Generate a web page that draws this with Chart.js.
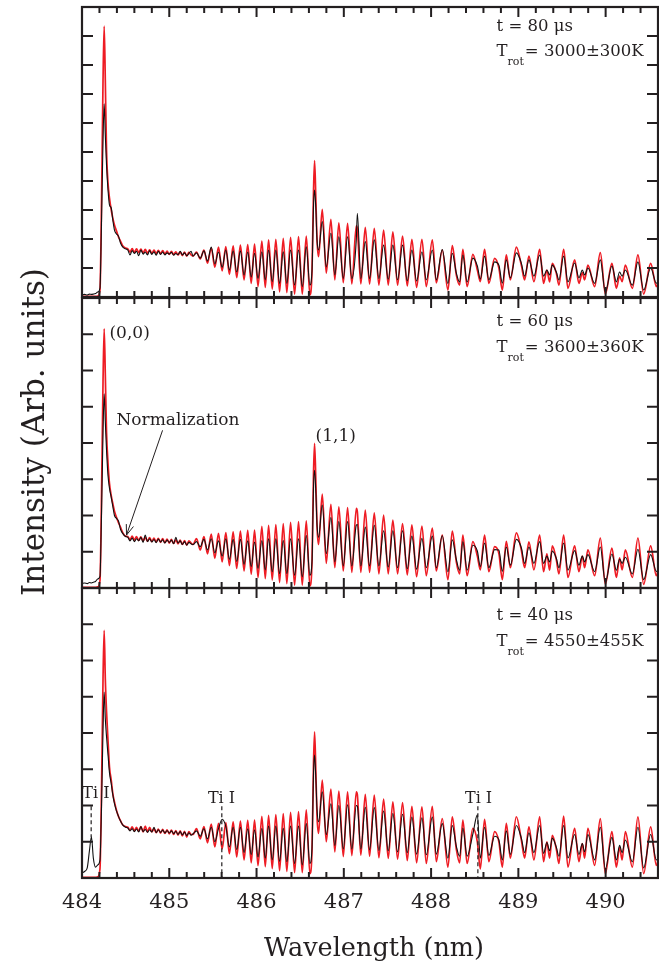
<!DOCTYPE html>
<html>
<head>
<meta charset="utf-8">
<title>AlO B-X emission, delay series</title>
<script src="https://cdn.jsdelivr.net/npm/chart.js@4.4.1/dist/chart.umd.min.js"></script>
<style>
  body { margin: 0; background: #fff; }
  #wrap { position: relative; width: 659px; height: 968px; overflow: hidden; }
  #wrap canvas { position: absolute; left: 0; }
  #ytitle {
    position: absolute; left: -167px; top: 414px; width: 400px; height: 36px;
    line-height: 36px; text-align: center; white-space: nowrap;
    font: 31px "DejaVu Serif", serif; color: #231f20;
    transform: rotate(-90deg);
  }
</style>
</head>
<body>
<div id="wrap">
  <canvas id="panel80" width="659" height="300" style="top:0px"></canvas>
  <canvas id="panel60" width="659" height="300" style="top:290px"></canvas>
  <canvas id="panel40" width="659" height="388" style="top:580px"></canvas>
  <div id="ytitle">Intensity (Arb. units)</div>
</div>
<script>
// Wavelength grid (nm), shared by every spectrum below.
// rows: (0,0) head | ripple | red side of (1,1) | (1,1) head | tail
const wavelength = [
  484.000, 484.030, 484.060, 484.085, 484.108, 484.130, 484.155, 484.180, 484.206, 484.224, 484.241, 484.254, 484.267, 484.281, 484.298, 484.315, 484.335, 484.353, 484.372, 484.395, 484.418, 484.441, 484.468, 484.499,
  484.525, 484.550, 484.575, 484.600, 484.625, 484.650, 484.675, 484.700, 484.725, 484.750, 484.775, 484.800, 484.825, 484.850, 484.875, 484.900, 484.925, 484.950, 484.975, 485.000, 485.025, 485.050, 485.075, 485.100, 485.125, 485.150, 485.175, 485.200, 485.225, 485.250,
  485.272, 485.312, 485.355, 485.397, 485.438, 485.481, 485.522, 485.564, 485.606, 485.648, 485.689, 485.732, 485.773, 485.815, 485.857, 485.899, 485.939, 485.977, 486.017, 486.061, 486.100, 486.138, 486.180, 486.221, 486.264, 486.306, 486.347, 486.390, 486.436, 486.481, 486.524, 486.570, 486.611,
  486.636, 486.653, 486.665, 486.680, 486.693, 486.711,
  486.753, 486.799, 486.852, 486.897, 486.943, 486.994, 487.043, 487.092, 487.143, 487.155, 487.195, 487.246, 487.295, 487.349, 487.402, 487.456, 487.509, 487.562, 487.616, 487.673, 487.727, 487.780, 487.834, 487.895, 487.945, 488.014, 488.060, 488.128, 488.193, 488.243, 488.289, 488.327, 488.364, 488.413, 488.479, 488.530, 488.564, 488.613, 488.662, 488.728, 488.777, 488.816, 488.862, 488.908, 488.977, 489.034, 489.072, 489.121, 489.178, 489.244, 489.289, 489.327, 489.358, 489.389, 489.435, 489.465, 489.519, 489.568, 489.645, 489.694, 489.733, 489.759, 489.797, 489.874, 489.939, 489.997, 490.072, 490.123, 490.160, 490.189, 490.226, 490.306, 490.370, 490.436, 490.516, 490.581, 490.607
];

// t = 80 us : measured (black) and simulated (red)
const exp80 = [
  0.07, 0.09, 0.07, 0.10, 0.09, 0.10, 0.12, 0.17, 0.31, 2.66, 5.41, 6.66, 5.59, 4.55, 3.69, 3.17, 3.07, 2.66, 2.31, 2.17, 2.10, 1.86, 1.72, 1.66,
  1.62, 1.45, 1.60, 1.50, 1.58, 1.42, 1.62, 1.48, 1.55, 1.45, 1.60, 1.47, 1.56, 1.44, 1.58, 1.47, 1.55, 1.45, 1.52, 1.48, 1.54, 1.44, 1.50, 1.46, 1.58, 1.45, 1.52, 1.42, 1.50, 1.58,
  1.41, 1.52, 1.34, 1.59, 1.24, 1.72, 1.14, 1.55, 1.03, 1.62, 0.93, 1.59, 0.86, 1.59, 0.76, 1.55, 0.69, 1.51, 0.64, 1.56, 0.59, 1.62, 0.53, 1.62, 0.47, 1.56, 0.47, 1.62, 0.41, 1.62, 0.36, 1.73, 0.41,
  0.93, 3.17, 3.69, 3.00, 1.97, 1.62,
  2.60, 1.04, 2.20, 0.76, 2.08, 0.64, 2.08, 0.64, 1.97, 2.89, 0.64, 1.91, 0.64, 1.97, 0.64, 1.79, 0.61, 1.79, 0.59, 1.79, 0.56, 1.62, 0.55, 1.56, 0.59, 1.62, 0.59, 1.64, 0.47, 1.51, 0.83, 0.52, 1.45, 0.52, 1.34, 1.07, 0.62, 1.41, 0.59, 1.21, 1.10, 0.48, 1.28, 0.66, 1.52, 1.17, 0.72, 1.28, 0.72, 1.45, 0.72, 0.93, 0.76, 1.10, 0.86, 0.59, 1.41, 0.52, 1.17, 0.66, 0.93, 0.76, 1.00, 0.47, 1.28, 0.17, 1.07, 0.52, 0.86, 0.72, 0.93, 0.41, 1.21, 0.24, 1.00, 0.48, 0.52
];
const sim80 = [
  0.02, 0.02, 0.02, 0.02, 0.02, 0.02, 0.02, 0.03, 0.24, 3.34, 7.48, 9.34, 7.48, 5.07, 3.93, 3.41, 3.00, 2.72, 2.48, 2.28, 2.07, 1.93, 1.76, 1.69,
  1.66, 1.55, 1.67, 1.54, 1.66, 1.53, 1.65, 1.52, 1.64, 1.51, 1.63, 1.50, 1.62, 1.50, 1.61, 1.49, 1.60, 1.48, 1.58, 1.47, 1.57, 1.46, 1.56, 1.45, 1.55, 1.43, 1.55, 1.41, 1.54, 1.45,
  1.41, 1.55, 1.31, 1.62, 1.17, 1.69, 1.03, 1.72, 0.90, 1.74, 0.78, 1.76, 0.67, 1.79, 0.59, 1.81, 0.47, 1.82, 0.36, 1.93, 0.33, 1.97, 0.27, 1.99, 0.18, 2.02, 0.15, 2.06, 0.10, 2.08, 0.10, 2.10, 0.07,
  0.93, 3.69, 4.70, 3.34, 1.97, 1.39,
  3.02, 0.82, 2.68, 0.59, 2.56, 0.49, 2.54, 0.45, 2.45, 2.35, 0.45, 2.40, 0.45, 2.37, 0.41, 2.31, 0.41, 2.25, 0.41, 2.10, 0.38, 1.99, 0.33, 1.99, 0.36, 1.97, 0.49, 1.62, 0.24, 1.77, 0.76, 0.41, 1.64, 0.36, 1.47, 0.93, 0.53, 1.64, 0.47, 1.33, 1.00, 0.24, 1.45, 0.59, 1.72, 1.10, 0.59, 1.41, 0.53, 1.64, 0.47, 0.93, 0.52, 1.16, 0.82, 0.41, 1.64, 0.30, 1.28, 0.47, 0.84, 0.59, 1.10, 0.36, 1.53, 0.10, 1.16, 0.30, 0.72, 0.53, 1.10, 0.30, 1.45, 0.10, 1.16, 0.36, 0.59
];

// t = 60 us
const exp60 = [
  0.12, 0.14, 0.12, 0.15, 0.14, 0.16, 0.18, 0.25, 0.32, 2.10, 4.30, 5.36, 4.60, 3.80, 3.10, 2.75, 2.50, 2.25, 2.00, 1.92, 1.85, 1.62, 1.50, 1.42,
  1.40, 1.30, 1.38, 1.28, 1.36, 1.30, 1.40, 1.26, 1.46, 1.28, 1.36, 1.27, 1.34, 1.25, 1.35, 1.27, 1.33, 1.24, 1.32, 1.26, 1.32, 1.22, 1.40, 1.24, 1.30, 1.20, 1.28, 1.18, 1.26, 1.22,
  1.20, 1.28, 1.14, 1.34, 1.05, 1.36, 0.97, 1.30, 0.88, 1.36, 0.79, 1.34, 0.73, 1.34, 0.65, 1.30, 0.59, 1.27, 0.54, 1.31, 0.50, 1.36, 0.45, 1.36, 0.40, 1.31, 0.40, 1.36, 0.35, 1.36, 0.31, 1.45, 0.35,
  0.75, 2.80, 3.25, 2.60, 1.75, 1.40,
  2.29, 0.95, 1.94, 0.72, 1.83, 0.61, 1.83, 0.61, 1.73, 1.75, 0.61, 1.68, 0.61, 1.73, 0.61, 1.58, 0.58, 1.58, 0.56, 1.58, 0.53, 1.43, 0.52, 1.37, 0.56, 1.43, 0.56, 1.44, 0.45, 1.33, 0.79, 0.49, 1.28, 0.49, 1.18, 1.02, 0.59, 1.24, 0.56, 1.06, 1.05, 0.46, 1.13, 0.63, 1.34, 1.11, 0.68, 1.13, 0.68, 1.28, 0.68, 0.88, 0.72, 1.02, 0.82, 0.56, 1.24, 0.49, 1.03, 0.63, 0.88, 0.72, 0.92, 0.45, 1.13, 0.16, 0.94, 0.49, 0.80, 0.68, 0.85, 0.39, 1.07, 0.23, 0.92, 0.46, 0.49
];
const sim60 = [
  0.02, 0.02, 0.02, 0.02, 0.02, 0.02, 0.02, 0.03, 0.20, 2.60, 5.70, 7.15, 5.90, 4.30, 3.45, 2.88, 2.55, 2.33, 2.12, 1.95, 1.80, 1.68, 1.52, 1.43,
  1.42, 1.33, 1.43, 1.32, 1.42, 1.31, 1.41, 1.30, 1.40, 1.29, 1.39, 1.28, 1.38, 1.27, 1.37, 1.26, 1.36, 1.25, 1.35, 1.24, 1.34, 1.23, 1.33, 1.22, 1.32, 1.20, 1.31, 1.18, 1.30, 1.24,
  1.20, 1.36, 1.05, 1.42, 0.94, 1.49, 0.82, 1.51, 0.72, 1.53, 0.62, 1.55, 0.54, 1.57, 0.47, 1.59, 0.38, 1.60, 0.29, 1.70, 0.26, 1.73, 0.22, 1.75, 0.15, 1.78, 0.12, 1.81, 0.08, 1.83, 0.08, 1.85, 0.06,
  0.75, 3.20, 3.99, 2.90, 1.70, 1.20,
  2.59, 0.68, 2.31, 0.56, 2.24, 0.47, 2.22, 0.43, 2.20, 2.10, 0.43, 2.15, 0.43, 2.07, 0.39, 2.01, 0.39, 1.87, 0.39, 1.78, 0.36, 1.74, 0.31, 1.71, 0.34, 1.65, 0.47, 1.46, 0.23, 1.57, 0.72, 0.39, 1.46, 0.34, 1.28, 0.88, 0.50, 1.46, 0.45, 1.14, 0.95, 0.23, 1.29, 0.56, 1.52, 1.05, 0.56, 1.27, 0.50, 1.46, 0.45, 0.94, 0.49, 1.16, 0.78, 0.39, 1.46, 0.29, 1.16, 0.45, 0.88, 0.56, 1.05, 0.34, 1.38, 0.10, 1.10, 0.29, 0.83, 0.50, 1.05, 0.29, 1.38, 0.10, 1.16, 0.34, 0.56
];

// t = 40 us (Ti I lines show up in the measured spectrum)
const exp40 = [
  0.14, 0.18, 0.28, 0.75, 1.14, 0.55, 0.30, 0.36, 0.50, 2.00, 4.10, 5.13, 4.40, 3.90, 3.40, 2.90, 2.60, 2.30, 2.05, 1.85, 1.70, 1.57, 1.46, 1.40,
  1.38, 1.30, 1.36, 1.28, 1.35, 1.27, 1.42, 1.28, 1.34, 1.26, 1.33, 1.27, 1.40, 1.25, 1.33, 1.26, 1.32, 1.24, 1.31, 1.24, 1.30, 1.22, 1.29, 1.20, 1.28, 1.19, 1.27, 1.17, 1.25, 1.18,
  1.22, 1.30, 1.15, 1.36, 1.08, 1.40, 1.00, 1.36, 1.62, 1.42, 0.86, 1.40, 0.78, 1.40, 0.70, 1.36, 0.64, 1.33, 0.58, 1.37, 0.55, 1.43, 0.50, 1.43, 0.46, 1.37, 0.45, 1.43, 0.40, 1.43, 0.36, 1.50, 0.40,
  0.85, 2.90, 3.39, 2.70, 1.90, 1.55,
  2.38, 1.20, 2.05, 0.90, 2.00, 0.80, 2.02, 0.80, 2.00, 1.98, 0.80, 1.95, 0.78, 1.94, 0.76, 1.85, 0.75, 1.78, 0.72, 1.76, 0.70, 1.68, 0.66, 1.66, 0.64, 1.68, 0.66, 1.50, 0.55, 1.45, 0.88, 0.60, 1.38, 0.60, 1.22, 1.74, 0.55, 1.40, 0.62, 1.15, 1.05, 0.50, 1.30, 0.65, 1.45, 1.10, 0.70, 1.25, 0.70, 1.45, 0.68, 0.98, 0.75, 1.10, 0.85, 0.60, 1.45, 0.55, 1.20, 0.65, 0.95, 0.72, 1.20, 0.50, 1.40, 0.25, 1.12, 0.50, 0.90, 0.70, 1.05, 0.45, 1.40, 0.28, 1.20, 0.50, 0.52
];
const sim40 = [
  0.02, 0.02, 0.02, 0.02, 0.02, 0.02, 0.02, 0.03, 0.25, 2.50, 5.50, 6.83, 5.50, 4.60, 3.80, 3.06, 2.70, 2.33, 2.10, 1.87, 1.70, 1.58, 1.46, 1.42,
  1.40, 1.32, 1.41, 1.30, 1.40, 1.29, 1.42, 1.27, 1.43, 1.27, 1.40, 1.27, 1.36, 1.25, 1.35, 1.24, 1.34, 1.23, 1.33, 1.22, 1.32, 1.20, 1.31, 1.18, 1.30, 1.16, 1.29, 1.13, 1.28, 1.20,
  1.20, 1.36, 1.08, 1.42, 0.97, 1.49, 0.86, 1.51, 0.80, 1.53, 0.67, 1.55, 0.58, 1.57, 0.50, 1.59, 0.42, 1.60, 0.34, 1.70, 0.31, 1.73, 0.26, 1.75, 0.20, 1.78, 0.18, 1.81, 0.15, 1.83, 0.15, 1.88, 0.12,
  0.80, 3.20, 4.03, 2.90, 1.70, 1.23,
  2.70, 1.00, 2.45, 0.72, 2.40, 0.59, 2.38, 0.62, 2.38, 2.30, 0.63, 2.31, 0.60, 2.29, 0.56, 2.18, 0.54, 2.10, 0.52, 2.08, 0.48, 1.98, 0.42, 1.96, 0.40, 1.98, 0.45, 1.64, 0.30, 1.69, 0.80, 0.42, 1.60, 0.40, 1.37, 1.00, 0.25, 1.62, 0.45, 1.28, 1.00, 0.30, 1.51, 0.55, 1.69, 1.05, 0.55, 1.41, 0.50, 1.69, 0.45, 1.00, 0.55, 1.18, 0.80, 0.40, 1.71, 0.30, 1.37, 0.45, 0.95, 0.55, 1.37, 0.35, 1.64, 0.12, 1.28, 0.30, 0.85, 0.50, 1.28, 0.30, 1.69, 0.12, 1.41, 0.35, 0.55
];

const xTickLabels = [484, 485, 486, 487, 488, 489, 490];
const delayLabels = ['t = 80 μs', 't = 60 μs', 't = 40 μs'];
const trotLabels = ['= 3000±300K', '= 3600±360K', '= 4550±455K'];
const tiLines = [484.105, 485.602, 488.536];

const INK = '#231f20';
const RED = '#ee1c24';
const SERIF = '"DejaVu Serif", serif';

function toPoints(values) {
  if (values.length !== wavelength.length) {
    console.error('length mismatch', values.length, wavelength.length);
  }
  return wavelength.map((w, i) => ({ x: w, y: values[i] }));
}

// frame with inward ticks on all four sides, plus the panel's text
const framePlugin = {
  id: 'frame',
  afterDatasetsDraw(chart, args, opts) {
    const { ctx, chartArea: a, scales: { x, y } } = chart;
    ctx.save();
    ctx.strokeStyle = INK;
    ctx.fillStyle = INK;
    ctx.lineWidth = 2;
    ctx.beginPath();
    for (let i = 0; i <= 33; i++) {
      const px = x.getPixelForValue(484 + i * 0.2);
      if (px > a.right - 1) continue;
      const len = i % 5 === 0 ? 10 : 6;
      ctx.moveTo(px, a.bottom); ctx.lineTo(px, a.bottom - len);
      ctx.moveTo(px, a.top); ctx.lineTo(px, a.top + len);
    }
    for (let v = 1; v < opts.yMax; v++) {
      const py = y.getPixelForValue(v);
      ctx.moveTo(a.left, py); ctx.lineTo(a.left + 11, py);
      ctx.moveTo(a.right, py); ctx.lineTo(a.right - 11, py);
    }
    ctx.stroke();
    ctx.lineWidth = 2.2;
    ctx.strokeRect(a.left, a.top, a.right - a.left, a.bottom - a.top);

    // delay and rotational temperature
    const tx = x.getPixelForValue(488.75);
    ctx.textAlign = 'left';
    ctx.textBaseline = 'alphabetic';
    ctx.font = '16.5px ' + SERIF;
    ctx.fillText(opts.delay, tx, y.getPixelForValue(opts.textY[0]));
    const ty = y.getPixelForValue(opts.textY[1]);
    ctx.fillText('T', tx, ty);
    const tw = ctx.measureText('T').width;
    ctx.font = '11px ' + SERIF;
    ctx.fillText('rot', tx + tw, ty + 9);
    const rw = ctx.measureText('rot').width;
    ctx.font = '16.5px ' + SERIF;
    ctx.fillText(opts.trot, tx + tw + rw + 1, ty);

    if (opts.extras) opts.extras(chart, ctx);
    ctx.restore();
  }
};

// (0,0) / (1,1) labels and the normalization arrow
function drawBandLabels(chart, ctx) {
  const { x, y } = chart.scales;
  ctx.font = '17px ' + SERIF;
  ctx.fillText('(0,0)', x.getPixelForValue(484.315), y.getPixelForValue(6.89));
  ctx.fillText('(1,1)', x.getPixelForValue(486.676), y.getPixelForValue(4.05));
  ctx.fillText('Normalization', x.getPixelForValue(484.395), y.getPixelForValue(4.49));
  const x0 = x.getPixelForValue(484.923), y0 = y.getPixelForValue(4.35);
  const x1 = x.getPixelForValue(484.510), y1 = y.getPixelForValue(1.46);
  const ang = Math.atan2(y1 - y0, x1 - x0);
  ctx.lineWidth = 1;
  ctx.beginPath();
  ctx.moveTo(x0, y0); ctx.lineTo(x1, y1);
  ctx.moveTo(x1, y1); ctx.lineTo(x1 - 11 * Math.cos(ang - 0.35), y1 - 11 * Math.sin(ang - 0.35));
  ctx.moveTo(x1, y1); ctx.lineTo(x1 - 11 * Math.cos(ang + 0.35), y1 - 11 * Math.sin(ang + 0.35));
  ctx.stroke();
}

// Ti I atomic lines, dashed markers
function drawTiLines(chart, ctx) {
  const { x, y } = chart.scales;
  const labelX = [484.160, 485.599, 488.544];
  const labelY = [2.20, 2.07, 2.07];
  const lineEnd = [1.13, 0, 0];
  ctx.font = '16px ' + SERIF;
  ctx.textAlign = 'center';
  ctx.lineWidth = 1.2;
  ctx.setLineDash([4, 3]);
  tiLines.forEach((w, i) => {
    ctx.fillText('Ti I', x.getPixelForValue(labelX[i]), y.getPixelForValue(labelY[i]));
    const px = x.getPixelForValue(w);
    ctx.beginPath();
    ctx.moveTo(px, y.getPixelForValue(1.98));
    ctx.lineTo(px, y.getPixelForValue(lineEnd[i]));
    ctx.stroke();
  });
  ctx.setLineDash([]);

  // wavelength tick labels and axis title
  const a = chart.chartArea;
  ctx.font = '21px ' + SERIF;
  xTickLabels.forEach(v => ctx.fillText(String(v), x.getPixelForValue(v), a.bottom + 30));
  ctx.font = '25.5px ' + SERIF;
  ctx.fillText('Wavelength (nm)', (a.left + a.right) / 2 + 4, a.bottom + 78);
}

function makePanel(canvasId, exp, sim, yMax, padding, pluginOpts) {
  const ctx = document.getElementById(canvasId).getContext('2d');
  return new Chart(ctx, {
    type: 'line',
    data: {
      datasets: [
        {
          // measured spectrum, drawn over the simulation
          data: toPoints(exp),
          borderColor: '#111111',
          borderWidth: 1.1,
          pointRadius: 0,
          cubicInterpolationMode: 'monotone'
        },
        {
          data: toPoints(sim),
          borderColor: RED,
          borderWidth: 1.7,
          pointRadius: 0,
          cubicInterpolationMode: 'monotone'
        }
      ]
    },
    options: {
      responsive: false,
      animation: false,
      events: [],
      devicePixelRatio: 1,
      layout: { padding: padding },
      plugins: {
        legend: { display: false },
        tooltip: { enabled: false },
        frame: Object.assign({ yMax: yMax }, pluginOpts)
      },
      scales: {
        x: { type: 'linear', min: 484, max: 490.6, display: false },
        y: { type: 'linear', min: 0, max: yMax, display: false }
      }
    },
    plugins: [framePlugin]
  });
}

makePanel('panel80', exp80, sim80, 10, { left: 82, right: 1, top: 7, bottom: 3 },
  { delay: delayLabels[0], trot: trotLabels[0], textY: [9.17, 8.30] });
makePanel('panel60', exp60, sim60, 8, { left: 82, right: 1, top: 8, bottom: 2 },
  { delay: delayLabels[1], trot: trotLabels[1], textY: [7.22, 6.50], extras: drawBandLabels });
makePanel('panel40', exp40, sim40, 8, { left: 82, right: 1, top: 8, bottom: 90 },
  { delay: delayLabels[2], trot: trotLabels[2], textY: [7.11, 6.39], extras: drawTiLines });
</script>
</body>
</html>
